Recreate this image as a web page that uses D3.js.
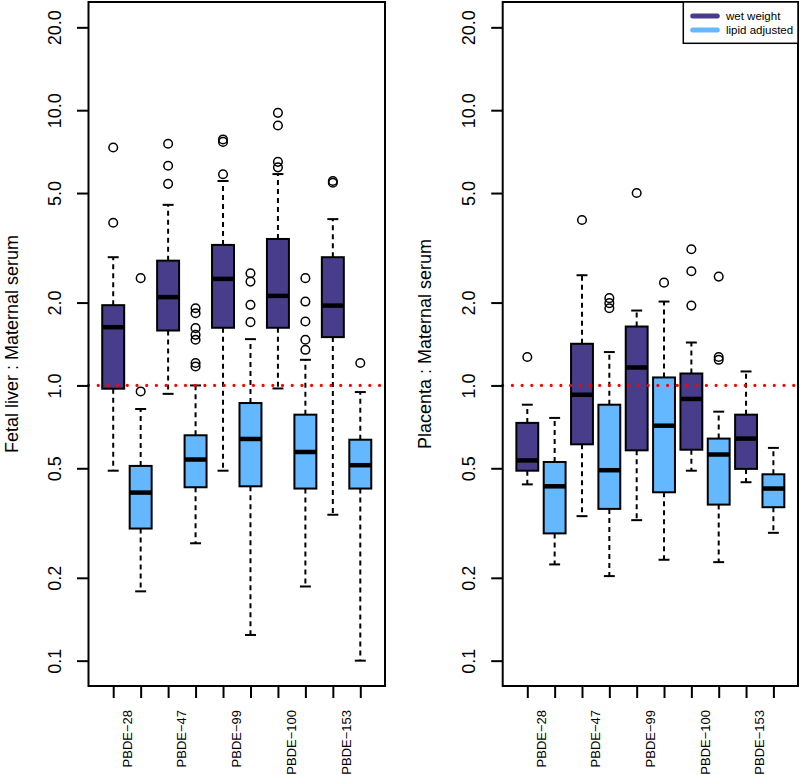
<!DOCTYPE html>
<html lang="en">
<head>
    <meta charset="UTF-8">
    <title>PBDE ratios boxplot</title>
    <script src="https://cdnjs.cloudflare.com/ajax/libs/d3/7.8.5/d3.min.js"></script>
    <style>
        body { margin: 0; background: #fff; }
        svg { display: block; font-family: "Liberation Sans", Arial, sans-serif; }
    </style>
</head>
<body>
    <div id="wrapper"></div>
    <script>
        // ---- data ----
        const compounds = ['PBDE\u221228', 'PBDE\u221247', 'PBDE\u221299', 'PBDE\u2212100', 'PBDE\u2212153']
        const seriesNames = ['wet weight', 'lipid adjusted']
        const yTicks = [0.1, 0.2, 0.5, 1.0, 2.0, 5.0, 10.0, 20.0]
        const yLimits = [0.1, 20]
        const refValue = 1.0

        // [lower whisker, q1, median, q3, upper whisker]
        const liverWet = [
            [0.49, 0.973, 1.628, 1.957, 2.923],
            [0.932, 1.583, 2.093, 2.84, 4.53],
            [0.49, 1.62, 2.438, 3.24, 5.53],
            [0.975, 1.62, 2.115, 3.405, 5.86],
            [0.339, 1.498, 1.95, 2.923, 4.02],
        ]
        const liverWetOut = [
            [3.90, 7.32],
            [5.40, 6.28, 7.55],
            [5.85, 7.67, 7.83],
            [6.20, 6.49, 8.80, 9.78],
            [5.45, 5.53],
        ]
        const liverLipid = [
            [0.1786, 0.302, 0.408, 0.510, 0.821],
            [0.267, 0.4266, 0.538, 0.659, 1.0],
            [0.124, 0.430, 0.639, 0.863, 1.473],
            [0.186, 0.422, 0.573, 0.783, 1.239],
            [0.1, 0.422, 0.513, 0.635, 0.946],
        ]
        const liverLipidOut = [
            [0.951, 2.453],
            [1.172, 1.206, 1.465, 1.527, 1.615, 1.83, 1.908],
            [1.698, 1.962, 2.384, 2.557],
            [1.347, 1.465, 1.707, 2.017, 2.453],
            [1.206],
        ]
        const placentaWet = [
            [0.437, 0.490, 0.534, 0.731, 0.851],
            [0.335, 0.611, 0.925, 1.417, 2.514],
            [0.324, 0.581, 1.162, 1.637, 1.871],
            [0.49, 0.584, 0.893, 1.105, 1.432],
            [0.445, 0.4975, 0.641, 0.783, 1.124],
        ]
        const placentaWetOut = [
            [1.268],
            [3.99],
            [5.0],
            [1.95, 2.60, 3.124],
            [],
        ]
        const placentaLipid = [
            [0.2237, 0.29, 0.430, 0.527, 0.762],
            [0.2029, 0.356, 0.492, 0.851, 1.322],
            [0.2326, 0.409, 0.714, 1.069, 2.017],
            [0.228, 0.369, 0.561, 0.641, 0.803],
            [0.2914, 0.361, 0.422, 0.4755, 0.593],
        ]
        const placentaLipidOut = [
            [],
            [1.908, 1.99, 2.075],
            [2.363],
            [1.239, 1.268, 2.485],
            [],
        ]

        const colors = ['#483D8B', '#63B8FF']

        // ---- dimensions ----
        const dimensions = {
            width: 800,
            height: 775,
            top: 2,
            bottom: 686,
        }
        const panels = [
            { left: 88.5, right: 385, title: 'Fetal liver : Maternal serum', titleX: 18,
              wet: liverWet, wetOut: liverWetOut, lipid: liverLipid, lipidOut: liverLipidOut },
            { left: 502.7, right: 798, title: 'Placenta : Maternal serum', titleX: 430.5,
              wet: placentaWet, wetOut: placentaWetOut, lipid: placentaLipid, lipidOut: placentaLipidOut, legend: true },
        ]

        const svg = d3.select('#wrapper')
            .append('svg')
                .attr('width', dimensions.width)
                .attr('height', dimensions.height)

        // R style log axis: 4% padding in log space
        const logLo = Math.log10(yLimits[0])
        const logHi = Math.log10(yLimits[1])
        const pad = (logHi - logLo) * 0.04
        const yScale = d3.scaleLog()
            .domain([Math.pow(10, logLo - pad), Math.pow(10, logHi + pad)])
            .range([dimensions.bottom, dimensions.top])

        const nBoxes = compounds.length * 2

        function drawPanel(p) {
            const xScale = d3.scaleLinear()
                .domain([0.5 - nBoxes * 0.04, nBoxes + 0.5 + nBoxes * 0.04])
                .range([p.left, p.right])
            const unit = xScale(2) - xScale(1)
            const boxW = unit * 0.8

            // one record per box: wet at odd positions, lipid at even
            const boxes = []
            compounds.forEach((c, i) => {
                boxes.push({ pos: 2 * i + 1, s: p.wet[i], out: p.wetOut[i], color: colors[0] })
                boxes.push({ pos: 2 * i + 2, s: p.lipid[i], out: p.lipidOut[i], color: colors[1] })
            })

            const g = svg.append('g')

            const box = g.selectAll('.box')
                .data(boxes)
                .join('g')
                    .attr('class', 'box')

            // whiskers
            box.append('line')
                .attr('x1', d => xScale(d.pos)).attr('x2', d => xScale(d.pos))
                .attr('y1', d => yScale(d.s[3])).attr('y2', d => yScale(d.s[4]))
                .attr('stroke', '#000').attr('stroke-width', 2)
                .attr('stroke-dasharray', '5,4')
            box.append('line')
                .attr('x1', d => xScale(d.pos)).attr('x2', d => xScale(d.pos))
                .attr('y1', d => yScale(d.s[1])).attr('y2', d => yScale(d.s[0]))
                .attr('stroke', '#000').attr('stroke-width', 2)
                .attr('stroke-dasharray', '5,4')
            // staples
            ;[0, 4].forEach(k => {
                box.append('line')
                    .attr('x1', d => xScale(d.pos) - boxW / 4).attr('x2', d => xScale(d.pos) + boxW / 4)
                    .attr('y1', d => yScale(d.s[k])).attr('y2', d => yScale(d.s[k]))
                    .attr('stroke', '#000').attr('stroke-width', 2)
            })
            // box
            box.append('rect')
                .attr('x', d => xScale(d.pos) - boxW / 2)
                .attr('width', boxW)
                .attr('y', d => yScale(d.s[3]))
                .attr('height', d => yScale(d.s[1]) - yScale(d.s[3]))
                .attr('fill', d => d.color)
                .attr('stroke', '#000').attr('stroke-width', 2)
            // median
            box.append('line')
                .attr('x1', d => xScale(d.pos) - boxW / 2).attr('x2', d => xScale(d.pos) + boxW / 2)
                .attr('y1', d => yScale(d.s[2])).attr('y2', d => yScale(d.s[2]))
                .attr('stroke', '#000').attr('stroke-width', 4.5)
            // outliers
            box.selectAll('circle')
                .data(d => d.out.map(v => ({ pos: d.pos, v })))
                .join('circle')
                    .attr('cx', d => xScale(d.pos))
                    .attr('cy', d => yScale(d.v))
                    .attr('r', 4.3)
                    .attr('fill', 'none')
                    .attr('stroke', '#000')
                    .attr('stroke-width', 1.5)

            // red dotted reference line
            g.append('line')
                .attr('x1', p.left).attr('x2', p.right)
                .attr('y1', yScale(refValue)).attr('y2', yScale(refValue))
                .attr('stroke', 'red')
                .attr('stroke-width', 3.2)
                .attr('stroke-linecap', 'round')
                .attr('stroke-dasharray', '0,9.7')

            // frame
            g.append('rect')
                .attr('x', p.left).attr('y', dimensions.top)
                .attr('width', p.right - p.left)
                .attr('height', dimensions.bottom - dimensions.top)
                .attr('fill', 'none')
                .attr('stroke', '#000').attr('stroke-width', 2)

            // y axis
            const yAxis = g.append('g')
                .attr('transform', `translate(${p.left},0)`)
                .call(d3.axisLeft(yScale).tickValues(yTicks).tickFormat(d3.format('.1f')).tickSize(11.5))
            yAxis.select('.domain').remove()
            yAxis.selectAll('.tick line').attr('stroke-width', 2)
            yAxis.selectAll('.tick text')
                .attr('x', null).attr('dy', null)
                .attr('transform', 'translate(-27.5,0) rotate(-90)')
                .attr('text-anchor', 'middle')
                .attr('font-size', 18)
                .attr('font-family', null)
                .attr('fill', '#000')

            // x axis: ticks per box, labels between pairs
            const xAxis = g.append('g')
                .attr('transform', `translate(0,${dimensions.bottom})`)
                .call(d3.axisBottom(xScale).tickValues(d3.range(1, nBoxes + 1)).tickFormat('').tickSize(12))
            xAxis.select('.domain').remove()
            xAxis.selectAll('.tick line').attr('stroke-width', 2)

            g.selectAll('.xlabel')
                .data(compounds)
                .join('text')
                    .attr('class', 'xlabel')
                    .attr('transform', (d, i) => `translate(${xScale(2 * i + 1.5) + 4.6},710) rotate(-90)`)
                    .attr('text-anchor', 'end')
                    .attr('font-size', 13)
                    .text(d => d)

            // y title
            g.append('text')
                .attr('transform', `translate(${p.titleX},${(dimensions.top + dimensions.bottom) / 2}) rotate(-90)`)
                .attr('text-anchor', 'middle')
                .attr('font-size', 18)
                .text(p.title)

            if (p.legend) {
                const lg = g.append('g')
                lg.append('rect')
                    .attr('x', 683.3).attr('y', dimensions.top)
                    .attr('width', p.right - 683.3).attr('height', 41.3)
                    .attr('fill', '#fff')
                    .attr('stroke', '#000').attr('stroke-width', 1.5)
                const item = lg.selectAll('.item')
                    .data(seriesNames)
                    .join('g')
                        .attr('transform', (d, i) => `translate(0,${16 + i * 14})`)
                item.append('line')
                    .attr('x1', 692.7).attr('x2', 717.3)
                    .attr('stroke', (d, i) => colors[i])
                    .attr('stroke-width', 5)
                    .attr('stroke-linecap', 'round')
                item.append('text')
                    .attr('x', 726)
                    .attr('dy', '0.35em')
                    .attr('font-size', 11.5)
                    .text(d => d)
            }
        }

        panels.forEach(drawPanel)
    </script>
</body>
</html>
